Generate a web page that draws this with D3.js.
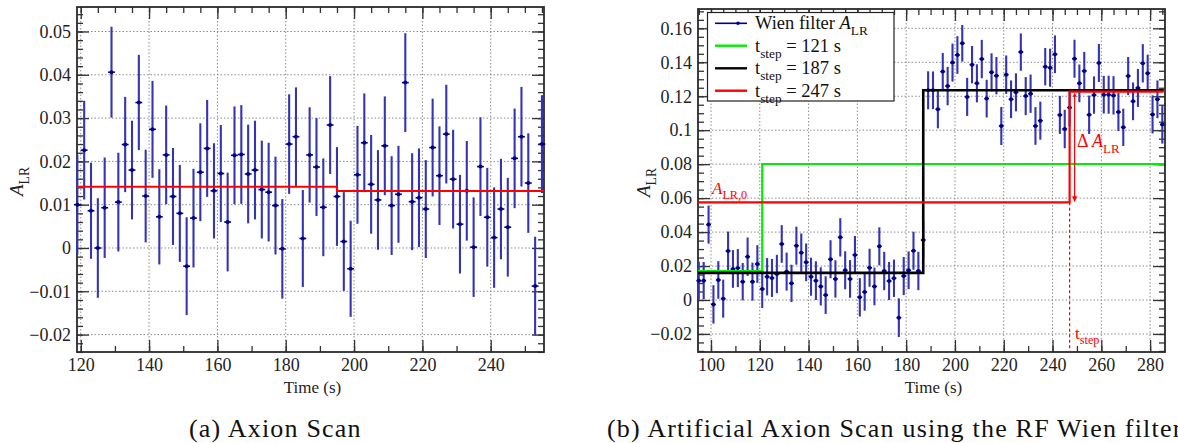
<!DOCTYPE html>
<html>
<head>
<meta charset="utf-8">
<title>Axion Scan</title>
<script src="https://cdn.jsdelivr.net/npm/d3@7"></script>
<style>
  body { margin: 0; background: #fff; }
  svg { display: block; font-family: "Liberation Serif", "Times New Roman", serif; }
  .tick text { font-size: 18px; fill: #222; font-family: "Liberation Serif", serif; }
  .tick line { stroke: #333; stroke-width: 1.3; }
  .grid line { stroke: #8c8c8c; stroke-width: 1; stroke-dasharray: 1.5,2; }
</style>
</head>
<body>
<svg id="chart" width="1178" height="443"></svg>
<script>
// ---- (a) axion scan data
var scanTimes = [119,121,123,125,127,129,131,133,135,137,139,141,143,145,147,149,151,153,155,157,
  159,161,163,165,167,169,171,173,175,177,179,181,183,185,187,189,191,193,195,197,
  199,201,203,205,207,209,211,213,215,217,219,221,223,225,227,229,231,233,235,237,
  239,241,243,245,247,249,251,253,255];
var scanAlr = [0.0100,0.0226,0.0086,0.0000,0.0093,0.0406,0.0106,0.0239,0.0180,0.0336,
  0.0120,0.0274,0.0072,0.0215,0.0119,0.0080,-0.0042,0.0069,0.0175,0.0230,
  0.0132,0.0172,0.0060,0.0214,0.0216,0.0171,0.0180,0.0135,0.0129,0.0098,
  -0.0002,0.0240,0.0257,0.0022,0.0215,0.0187,0.0094,0.0284,0.0119,0.0015,
  -0.0048,0.0169,0.0243,0.0147,0.0111,0.0236,0.0098,0.0124,0.0382,0.0107,
  0.0116,0.0090,0.0232,0.0167,0.0263,0.0159,0.0055,0.0132,0.0002,0.0188,
  0.0071,0.0024,0.0090,0.0048,0.0207,0.0257,0.0150,-0.0088,0.0240];
var scanErr = [0.0115,0.0114,0.0111,0.0115,0.0116,0.0105,0.0114,0.0110,0.0114,0.0110,
  0.0107,0.0112,0.0110,0.0114,0.0112,0.0112,0.0113,0.0114,0.0113,0.0112,
  0.0110,0.0112,0.0114,0.0113,0.0114,0.0114,0.0114,0.0113,0.0114,0.0113,
  0.0115,0.0115,0.0114,0.0112,0.0110,0.0113,0.0113,0.0113,0.0114,0.0114,
  0.0111,0.0113,0.0114,0.0114,0.0115,0.0114,0.0114,0.0112,0.0114,0.0112,
  0.0114,0.0113,0.0113,0.0114,0.0114,0.0114,0.0114,0.0115,0.0115,0.0114,
  0.0114,0.0116,0.0116,0.0114,0.0115,0.0115,0.0115,0.0114,0.0113];
var scanFitStep = 195;
var scanFitLevels = [0.01416, 0.01316];

var scanXTicks = [120,140,160,180,200,220,240];
var scanXLabels = ["120","140","160","180","200","220","240"];
var scanYTicks = [-0.02,-0.01,0,0.01,0.02,0.03,0.04,0.05];
var scanYLabels = ["\u22120.02","\u22120.01","0","0.01","0.02","0.03","0.04","0.05"];

// ---- (b) artificial scan with the RF Wien filter
var wienTimes = [95,97,99,101,103,105,107,109,111,113,115,117,119,121,123,125,127,129,131,133,
  135,137,139,141,143,145,147,149,151,153,155,157,159,161,163,165,167,169,171,173,
  175,177,179,181,183,185,187,189,191,193,195,197,199,201,203,205,207,209,211,213,
  215,217,219,221,223,225,227,229,231,233,235,237,239,241,243,245,247,249,251,253,
  255,257,259,261,263,265,267,269,271,273,275,277,279,281,283,285];
var wienAlr = [0.0114,0.0114,0.0444,-0.0026,0.0118,0.0008,0.0289,0.0183,0.0188,0.0108,
  0.0255,0.0108,0.0212,0.0065,0.0137,0.0130,0.0153,0.0330,0.0167,0.0098,
  0.0320,0.0279,0.0222,0.0137,0.0114,0.0080,0.0029,0.0240,0.0124,0.0369,
  0.0175,0.0124,0.0265,0.0016,0.0047,0.0190,0.0080,0.0316,0.0171,0.0112,
  0.0128,-0.0104,0.0141,0.0175,0.0290,0.0171,0.0353,
  0.1235,0.1235,0.1123,0.1345,0.1260,0.1398,0.1443,0.1512,0.1196,0.1386,
  0.1276,0.1419,0.1186,0.1341,0.1321,0.1025,0.1327,0.1182,0.1223,0.1460,
  0.1201,0.1215,0.1025,0.1056,0.1374,0.1368,0.1447,0.1090,0.1007,0.1133,
  0.1421,0.1276,0.1349,0.1091,0.1207,0.1396,0.1209,0.1209,0.1205,0.1107,
  0.1017,0.1319,0.1170,0.1249,0.1394,0.1335,0.1093,0.1182,0.1033];
var wienErr = [0.0112,0.0110,0.0112,0.0113,0.0111,0.0112,0.0114,0.0111,0.0112,0.0110,
  0.0113,0.0112,0.0111,0.0112,0.0110,0.0112,0.0113,0.0111,0.0112,0.0110,
  0.0112,0.0113,0.0111,0.0112,0.0114,0.0112,0.0111,0.0112,0.0110,0.0113,
  0.0112,0.0111,0.0112,0.0113,0.0110,0.0112,0.0111,0.0112,0.0113,0.0112,
  0.0110,0.0114,0.0112,0.0111,0.0112,0.0113,0.0110,
  0.0112,0.0111,0.0112,0.0110,0.0113,0.0112,0.0111,0.0108,0.0112,0.0110,
  0.0112,0.0113,0.0111,0.0112,0.0110,0.0112,0.0113,0.0111,0.0112,0.0110,
  0.0112,0.0113,0.0111,0.0112,0.0110,0.0112,0.0111,0.0112,0.0113,0.0110,
  0.0112,0.0111,0.0112,0.0113,0.0110,0.0112,0.0111,0.0112,0.0113,0.0112,
  0.0110,0.0112,0.0111,0.0112,0.0113,0.0110,0.0112,0.0111,0.0112];
var stepTimes = [121, 187, 247];
var stepLow = [0.0170, 0.0160, 0.0575];
var stepHigh = [0.0801, 0.1235, 0.1227];
var stepColors = ["#00ee00", "#000000", "#ff0000"];
var stepNames = ["121", "187", "247"];

var wienXTicks = [100,120,140,160,180,200,220,240,260,280];
var wienXLabels = ["100","120","140","160","180","200","220","240","260","280"];
var wienYTicks = [-0.02,0,0.02,0.04,0.06,0.08,0.1,0.12,0.14,0.16];
var wienYLabels = ["\u22120.02","0","0.02","0.04","0.06","0.08","0.1","0.12","0.14","0.16"];

var svg = d3.select("#chart");
svg.append("rect").attr("width", 1178).attr("height", 443).attr("fill", "#fff");

// text with italic / subscript pieces
function richText(sel, parts, size) {
  var shift = 0;
  parts.forEach(function(p) {
    var target = p.sub ? size * 0.32 : 0;
    var ts = sel.append("tspan").text(p.t)
      .attr("dy", target - shift)
      .style("font-size", (p.sub ? size * 0.72 : size) + "px");
    if (p.it) ts.style("font-style", "italic");
    shift = target;
  });
  return sel;
}

function steps(lo, hi, step) {
  var out = [];
  for (var k = Math.ceil(lo / step - 1e-9); k * step <= hi + 1e-9; k++) out.push(+(k * step).toFixed(6));
  return out;
}

function drawPanel(p) {
  var x = d3.scaleLinear().domain(p.xDomain).range([p.x0, p.x1]);
  var y = d3.scaleLinear().domain(p.yDomain).range([p.y1, p.y0]);
  var g = svg.append("g");

  var grid = g.append("g").attr("class", "grid");
  grid.selectAll(".gv").data(p.xTicks).enter().append("line")
    .attr("x1", d => x(d)).attr("x2", d => x(d)).attr("y1", p.y0).attr("y2", p.y1);
  grid.selectAll(".gh").data(p.yTicks).enter().append("line")
    .attr("x1", p.x0).attr("x2", p.x1).attr("y1", d => y(d)).attr("y2", d => y(d));

  var major = 12, minor = 6;
  function axis(a, vals, size, fmt) {
    return a.tickValues(vals).tickSize(-size).tickFormat(fmt || "");
  }
  // minor ticks first, then major with labels
  g.append("g").attr("transform", "translate(0," + p.y1 + ")")
    .call(axis(d3.axisBottom(x), steps(p.xDomain[0], p.xDomain[1], p.xMinorBottom), minor));
  g.append("g").attr("transform", "translate(0," + p.y1 + ")")
    .call(axis(d3.axisBottom(x), p.xTicks, major, (d, i) => p.xLabels[i]).tickPadding(6));
  g.append("g").attr("transform", "translate(0," + p.y0 + ")")
    .call(axis(d3.axisTop(x), steps(p.xDomain[0], p.xDomain[1], p.xMinorTop), minor));
  g.append("g").attr("transform", "translate(0," + p.y0 + ")")
    .call(axis(d3.axisTop(x), p.xTicks, major));
  g.append("g").attr("transform", "translate(" + p.x0 + ",0)")
    .call(axis(d3.axisLeft(y), steps(p.yDomain[0], p.yDomain[1], p.yMinor), minor));
  g.append("g").attr("transform", "translate(" + p.x0 + ",0)")
    .call(axis(d3.axisLeft(y), p.yTicks, major, (d, i) => p.yLabels[i]).tickPadding(6));
  g.append("g").attr("transform", "translate(" + p.x1 + ",0)")
    .call(axis(d3.axisRight(y), steps(p.yDomain[0], p.yDomain[1], p.yMinor), minor));
  g.append("g").attr("transform", "translate(" + p.x1 + ",0)")
    .call(axis(d3.axisRight(y), p.yTicks, major));
  g.selectAll(".domain").remove();

  g.append("rect").attr("x", p.x0).attr("y", p.y0)
    .attr("width", p.x1 - p.x0).attr("height", p.y1 - p.y0)
    .attr("fill", "none").attr("stroke", "#2a2a2a").attr("stroke-width", 1.8);

  // axis titles
  richText(g.append("text").attr("text-anchor", "middle")
    .attr("transform", "translate(" + p.yTitleX + "," + ((p.y0 + p.y1) / 2 + 2) + ") rotate(-90)")
    .attr("fill", "#222"),
    [{t: "A", it: true}, {t: "LR", sub: true}], 19);
  g.append("text").attr("x", (p.x0 + p.x1) / 2 + 2).attr("y", 393)
    .attr("text-anchor", "middle").attr("fill", "#222")
    .style("font-size", "17px").text("Time (s)");

  // data points with error bars
  var rows = p.times.map((t, i) => ({t: t, v: p.values[i], e: p.errors[i]}));
  var pts = g.append("g").selectAll("g").data(rows).enter().append("g");
  pts.append("line")
    .attr("x1", d => x(d.t)).attr("x2", d => x(d.t))
    .attr("y1", d => y(d.v - d.e)).attr("y2", d => y(d.v + d.e))
    .attr("stroke", "#3535b2").attr("stroke-width", 2.1);
  pts.append("line")
    .attr("x1", d => x(d.t - 1)).attr("x2", d => x(d.t + 1))
    .attr("y1", d => y(d.v)).attr("y2", d => y(d.v))
    .attr("stroke", "#000088").attr("stroke-width", 1.6);
  pts.append("circle")
    .attr("cx", d => x(d.t)).attr("cy", d => y(d.v)).attr("r", 2)
    .attr("fill", "#000088");

  return {x: x, y: y, g: g};
}

function stepPath(x, y, x0, tStep, x1, lo, hi) {
  return d3.line().curve(d3.curveStepAfter).x(d => x(d[0])).y(d => y(d[1]))(
    [[x0, lo], [tStep, hi], [x1, hi]]);
}

// ---------- panel (a)
var A = drawPanel({
  x0: 77, x1: 544, y0: 7, y1: 352,
  xDomain: [118.9, 255.6], yDomain: [-0.02402, 0.05566],
  xTicks: scanXTicks, xLabels: scanXLabels, yTicks: scanYTicks, yLabels: scanYLabels,
  xMinorBottom: 10, xMinorTop: 5, yMinor: 0.002,
  times: scanTimes, values: scanAlr, errors: scanErr, yTitleX: 23
});
A.g.append("path")
  .attr("d", stepPath(A.x, A.y, 118.9, scanFitStep, 255.6, scanFitLevels[0], scanFitLevels[1]))
  .attr("fill", "none").attr("stroke", "#ff0000").attr("stroke-width", 2);

// ---------- panel (b)
var B = drawPanel({
  x0: 698, x1: 1165, y0: 9, y1: 352,
  xDomain: [94.67, 286.1], yDomain: [-0.03062, 0.17138],
  xTicks: wienXTicks, xLabels: wienXLabels, yTicks: wienYTicks, yLabels: wienYLabels,
  xMinorBottom: 10, xMinorTop: 5, yMinor: 0.005,
  times: wienTimes, values: wienAlr, errors: wienErr, yTitleX: 650
});
stepTimes.forEach(function(ts, i) {
  B.g.append("path")
    .attr("d", stepPath(B.x, B.y, 94.67, ts, 285.6, stepLow[i], stepHigh[i]))
    .attr("fill", "none").attr("stroke", stepColors[i])
    .attr("stroke-width", i === 1 ? 2.6 : 2.2);
});

// annotations (red)
var red = "#ff0000";
var xs = B.x(stepTimes[2]);
B.g.append("line").attr("x1", xs).attr("x2", xs)
  .attr("y1", B.y(stepLow[2])).attr("y2", 352)
  .attr("stroke", red).attr("stroke-width", 1.2).attr("stroke-dasharray", "3,2.5");
var xa = xs + 5;
B.g.append("line").attr("x1", xa).attr("x2", xa)
  .attr("y1", B.y(stepHigh[2]) + 2).attr("y2", B.y(stepLow[2]) - 2)
  .attr("stroke", red).attr("stroke-width", 1.2);
B.g.append("path")
  .attr("d", "M" + (xa - 2.5) + "," + (B.y(stepLow[2]) - 6) + "L" + (xa + 2.5) + "," + (B.y(stepLow[2]) - 6) +
    "L" + xa + "," + B.y(stepLow[2]) + "Z")
  .attr("fill", red);
B.g.append("path")
  .attr("d", "M" + (xa - 2) + "," + (B.y(stepHigh[2]) + 5) + "L" + (xa + 2) + "," + (B.y(stepHigh[2]) + 5) +
    "L" + xa + "," + (B.y(stepHigh[2]) + 1) + "Z")
  .attr("fill", red);

richText(B.g.append("text").attr("x", 712).attr("y", 194).attr("fill", red),
  [{t: "A", it: true}, {t: "LR,0", sub: true}], 17);
richText(B.g.append("text").attr("x", 1077).attr("y", 147).attr("fill", red),
  [{t: "\u0394 "}, {t: "A", it: true}, {t: "LR", sub: true}], 18);
richText(B.g.append("text").attr("x", 1075).attr("y", 339).attr("fill", red),
  [{t: "t"}, {t: "step", sub: true}], 17);

// legend
var lg = B.g.append("g");
lg.append("rect").attr("x", 707.5).attr("y", 12.5).attr("width", 186.5).attr("height", 88.5)
  .attr("fill", "#fff").attr("stroke", "#222").attr("stroke-width", 1.2);
var rowY = [23.3, 45.7, 68.3, 90.7];
lg.append("line").attr("x1", 715).attr("x2", 747).attr("y1", rowY[0]).attr("y2", rowY[0])
  .attr("stroke", "#000099").attr("stroke-width", 1.6);
lg.append("circle").attr("cx", 738).attr("cy", rowY[0]).attr("r", 1.8).attr("fill", "#000088");
richText(lg.append("text").attr("x", 755).attr("y", rowY[0] + 6).attr("fill", "#111"),
  [{t: "Wien filter "}, {t: "A", it: true}, {t: "LR", sub: true}], 18.5);
stepNames.forEach(function(n, i) {
  var yy = rowY[i + 1];
  lg.append("line").attr("x1", 715).attr("x2", 747).attr("y1", yy).attr("y2", yy)
    .attr("stroke", stepColors[i]).attr("stroke-width", 2.4);
  richText(lg.append("text").attr("x", 755).attr("y", yy + 6).attr("fill", "#111"),
    [{t: "t"}, {t: "step", sub: true}, {t: " = " + n + " s"}], 18.5);
});

// captions (the second one runs past the right edge, as in the source figure)
svg.append("text").attr("x", 189).attr("y", 437).attr("fill", "#111")
  .style("font-size", "26px").style("letter-spacing", "1.2px").text("(a) Axion Scan");
svg.append("text").attr("x", 607).attr("y", 437).attr("fill", "#111")
  .style("font-size", "26px").style("letter-spacing", "1.2px")
  .text("(b) Artificial Axion Scan using the RF Wien filter");
</script>
</body>
</html>
